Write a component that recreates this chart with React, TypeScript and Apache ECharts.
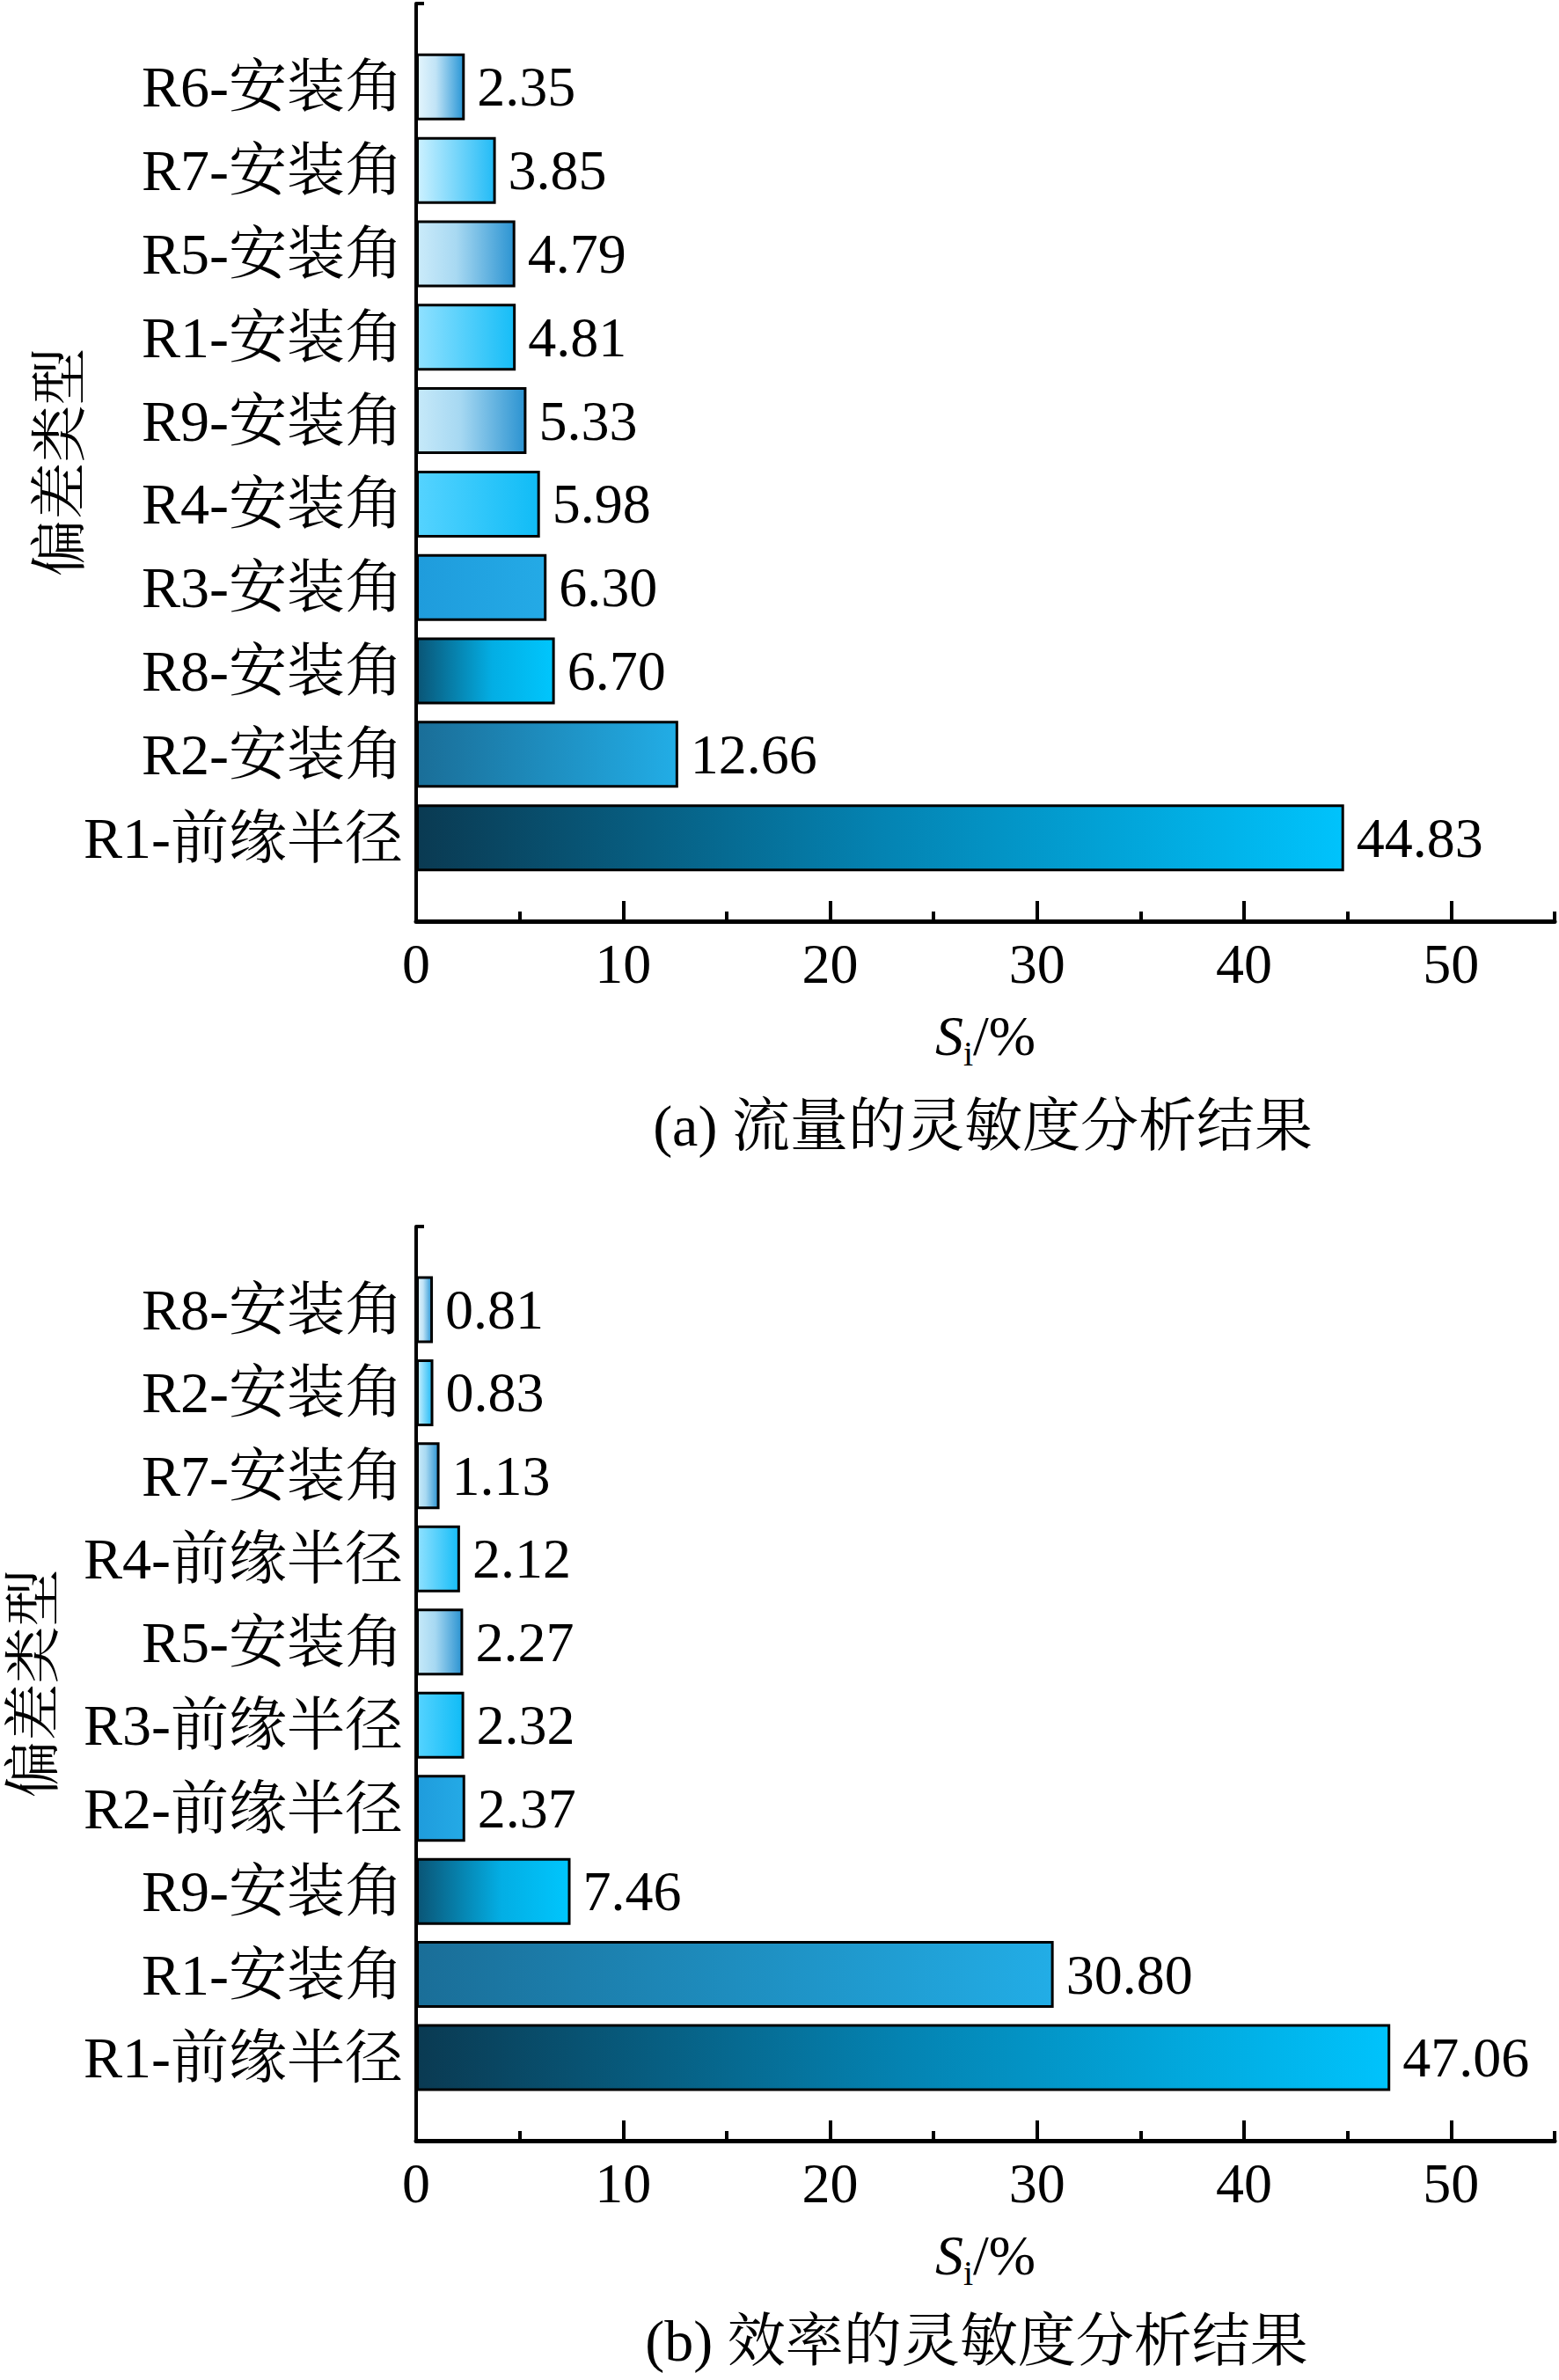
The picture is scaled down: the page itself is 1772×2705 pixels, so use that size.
import React, { useEffect, useRef } from "react";
import * as echarts from "echarts";

const FONT = "'Liberation Serif', 'Noto Serif CJK SC', 'Noto Sans CJK SC', serif";

// (a) flow sensitivity, listed top to bottom
const catsA = ["R6-安装角", "R7-安装角", "R5-安装角", "R1-安装角", "R9-安装角", "R4-安装角", "R3-安装角", "R8-安装角", "R2-安装角", "R1-前缘半径"];
const valsA = [2.35, 3.85, 4.79, 4.81, 5.33, 5.98, 6.3, 6.7, 12.66, 44.83];

// (b) efficiency sensitivity, listed top to bottom
const catsB = ["R8-安装角", "R2-安装角", "R7-安装角", "R4-前缘半径", "R5-安装角", "R3-前缘半径", "R2-前缘半径", "R9-安装角", "R1-安装角", "R1-前缘半径"];
const valsB = [0.81, 0.83, 1.13, 2.12, 2.27, 2.32, 2.37, 7.46, 30.8, 47.06];

const majorTicks = [0, 10, 20, 30, 40, 50];
const minorTicks = [5, 15, 25, 35, 45, 55];

const captionA = "(a) 流量的灵敏度分析结果";
const captionB = "(b) 效率的灵敏度分析结果";
const yName = "偏差类型";

// gradient fills, index 0 = bottom bar
const palette: [number, string][][] = [
  [[0, "#0a3a52"], [0.5, "#0483b2"], [1, "#00c3fc"]],
  [[0, "#1a6e98"], [1, "#22ade6"]],
  [[0, "#0a5576"], [0.55, "#03aee4"], [1, "#00c6fd"]],
  [[0, "#1f9cdc"], [1, "#24aae6"]],
  [[0, "#55d3ff"], [1, "#10bcf6"]],
  [[0, "#c6e9f9"], [0.4, "#a6d8f2"], [1, "#2b93d1"]],
  [[0, "#90e1ff"], [1, "#16bdf7"]],
  [[0, "#cbebfa"], [0.4, "#a8d9f2"], [1, "#2c94d2"]],
  [[0, "#cdf1ff"], [1, "#22bbf6"]],
  [[0, "#e4f5fd"], [0.4, "#c0e3f6"], [1, "#2896d6"]],
];

function grad(stops: [number, string][]) {
  return new echarts.graphic.LinearGradient(
    0, 0, 1, 0,
    stops.map(([offset, color]) => ({ offset, color }))
  );
}

function yAxisFor(cats: string[], gridIndex: number, nameGap: number) {
  return {
    type: "category",
    gridIndex,
    data: [" ", ...cats, "  "],
    inverse: true,
    boundaryGap: false,
    axisLine: { lineStyle: { color: "#000", width: 4 } },
    axisTick: { show: true, inside: true, length: 9, interval: 0, lineStyle: { color: "#000", width: 4 } },
    axisLabel: { interval: 0, margin: 15, fontSize: 66, color: "#000", fontFamily: FONT },
    splitLine: { show: false },
    name: yName,
    nameLocation: "middle",
    nameRotate: 90,
    nameGap,
    nameMoveOverlap: false,
    nameTextStyle: { fontSize: 65, color: "#000", fontFamily: FONT },
  };
}

function xMajor(gridIndex: number) {
  return {
    type: "value",
    gridIndex,
    position: "bottom",
    min: 0,
    max: 55,
    axisLine: { show: true, lineStyle: { color: "#000", width: 5 } },
    axisTick: { show: true, inside: true, length: 23, customValues: majorTicks, lineStyle: { color: "#000", width: 4 } },
    axisLabel: { show: true, customValues: majorTicks, margin: 16, fontSize: 64, color: "#000", fontFamily: FONT },
    splitLine: { show: false },
    name: "{s|S}{sub|i}{t|/%}",
    nameLocation: "middle",
    nameGap: 98,
    nameMoveOverlap: false,
    nameTextStyle: {
      color: "#000",
      fontFamily: FONT,
      fontSize: 64,
      rich: {
        s: { fontStyle: "italic", fontSize: 64, lineHeight: 64, verticalAlign: "top", fontFamily: FONT, color: "#000" },
        sub: { fontSize: 40, lineHeight: 72, verticalAlign: "bottom", fontFamily: FONT, color: "#000" },
        t: { fontSize: 64, lineHeight: 64, verticalAlign: "top", fontFamily: FONT, color: "#000" },
      },
    },
  };
}

function xMinor(gridIndex: number) {
  return {
    type: "value",
    gridIndex,
    position: "bottom",
    min: 0,
    max: 55,
    axisLine: { show: false },
    axisTick: { show: true, inside: true, length: 11, customValues: minorTicks, lineStyle: { color: "#000", width: 4 } },
    axisLabel: { show: false },
    splitLine: { show: false },
  };
}

function barSeries(vals: number[], xAxisIndex: number, yAxisIndex: number) {
  const n = vals.length;
  const data = vals.map((v, i) => ({
    value: v,
    itemStyle: { color: grad(palette[n - 1 - i]), borderColor: "#000", borderWidth: 3 },
  }));
  return {
    type: "bar",
    xAxisIndex,
    yAxisIndex,
    barWidth: 76,
    data: ["-", ...data, "-"],
    itemStyle: { borderColor: "#000", borderWidth: 3 },
    label: {
      show: true,
      position: "right",
      distance: 14,
      fontSize: 64,
      color: "#000",
      fontFamily: FONT,
      formatter: (p: any) => (typeof p.value === "number" ? p.value.toFixed(2) : ""),
    },
  };
}

export default function App() {
  const ref = useRef<HTMLDivElement>(null);
  useEffect(() => {
    if (!ref.current) return;
    const chart = echarts.init(ref.current, undefined, { renderer: "svg" });
    chart.setOption({
      animation: false,
      backgroundColor: "#fff",
      grid: [
        { left: 473, top: 4, width: 1294, height: 1043, containLabel: false, outerBoundsMode: "none" },
        { left: 473, top: 1394, width: 1294, height: 1039, containLabel: false, outerBoundsMode: "none" },
      ],
      xAxis: [xMajor(0), xMinor(0), xMajor(1), xMinor(1)],
      yAxis: [yAxisFor(catsA, 0, 373), yAxisFor(catsB, 1, 403)],
      series: [barSeries(valsA, 0, 0), barSeries(valsB, 2, 1)],
      graphic: [
        {
          type: "text",
          x: 1117,
          y: 1279,
          style: { text: captionA, fontSize: 66, fontFamily: FONT, fill: "#000", align: "center", verticalAlign: "middle" },
        },
        {
          type: "text",
          x: 1110,
          y: 2660,
          style: { text: captionB, fontSize: 66, fontFamily: FONT, fill: "#000", align: "center", verticalAlign: "middle" },
        },
      ],
    });
    return () => chart.dispose();
  }, []);
  return (
    <div
      ref={ref}
      style={{ position: "absolute", left: 0, top: 0, width: 1772, height: 2705, background: "#fff" }}
    />
  );
}
